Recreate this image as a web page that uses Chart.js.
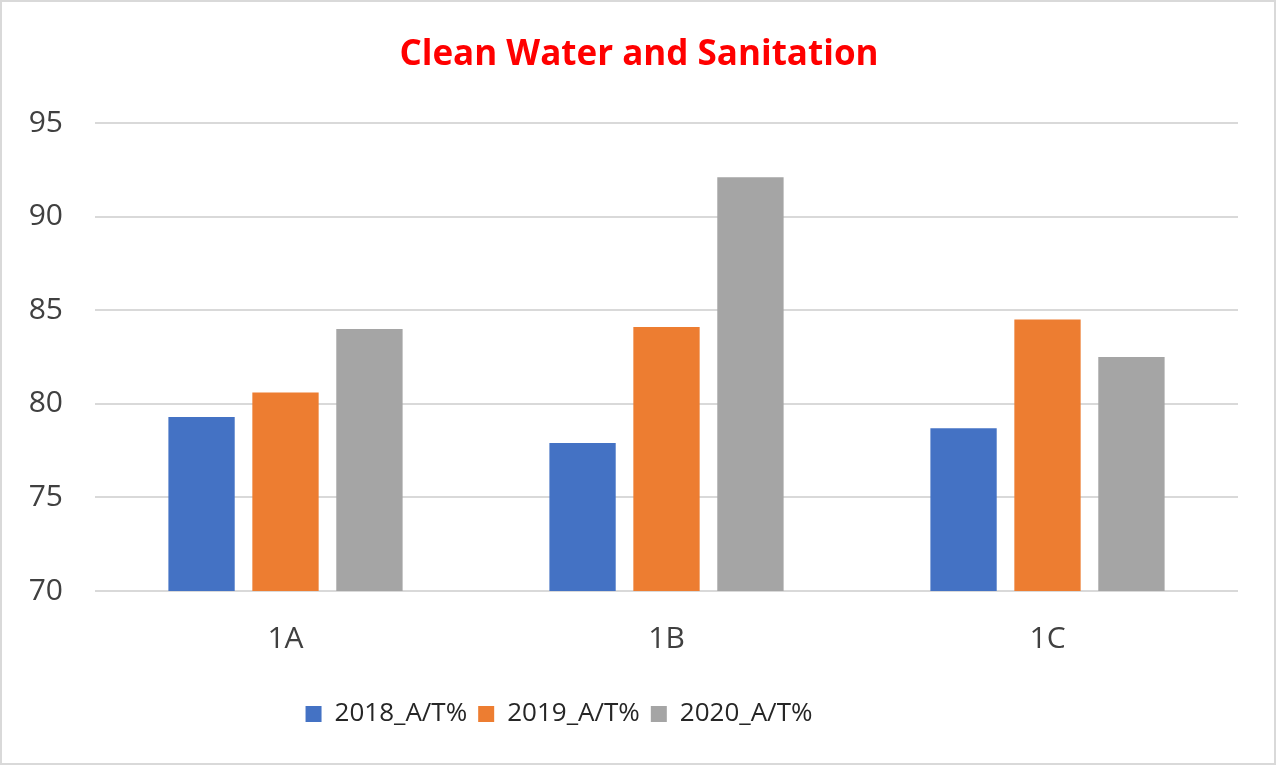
<!DOCTYPE html>
<html>
<head>
<meta charset="utf-8">
<script src="https://cdn.jsdelivr.net/npm/chart.js@4.4.1/dist/chart.umd.min.js"></script>
<style>
    html, body { margin: 0; padding: 0; background: #fff; }
    #wrap { width: 1276px; height: 765px; }
</style>
</head>
<body>
<div id="wrap"><canvas id="chart" width="1276" height="765"></canvas></div>
<script>
// chart data
const categories = ['1A', '1B', '1C'];
const seriesNames = ['2018_A/T%', '2019_A/T%', '2020_A/T%'];
const values2018 = [79.3, 77.9, 78.7];
const values2019 = [80.6, 84.1, 84.5];
const values2020 = [84.0, 92.1, 82.5];
const yMin = 70;
const yMax = 95;
const yStep = 5;

const colors = ['#4472C4', '#ED7D31', '#A5A5A5'];
const fontFamily = '"Open Sans", sans-serif';

// white background + light grey frame around the whole picture
const framePlugin = {
    id: 'frame',
    beforeDraw(chart) {
        const ctx = chart.ctx;
        ctx.save();
        ctx.fillStyle = '#fff';
        ctx.fillRect(0, 0, chart.width, chart.height);
        ctx.strokeStyle = '#d9d9d9';
        ctx.lineWidth = 2;
        ctx.strokeRect(1, 1, chart.width - 2, chart.height - 2);
        ctx.restore();
    }
};

// in the original the title sits a little right of centre and the legend a bit left
const boxShiftPlugin = {
    id: 'boxShift',
    afterLayout(chart) {
        const shift = (box, dx) => {
            if (!box) return;
            box.left += dx;
            box.right += dx;
        };
        shift(chart.titleBlock, 20);
        shift(chart.legend, -60);
    }
};

const seriesValues = [values2018, values2019, values2020];

new Chart(document.getElementById('chart'), {
    type: 'bar',
    data: {
        labels: categories,
        datasets: seriesNames.map((name, i) => ({
            label: name,
            data: seriesValues[i],
            backgroundColor: colors[i],
            borderWidth: 0,
            categoryPercentage: 0.661,
            barPercentage: 0.79
        }))
    },
    options: {
        responsive: false,
        animation: false,
        layout: {
            padding: { left: 0, right: 38, top: 0, bottom: 28 }
        },
        plugins: {
            title: {
                display: true,
                text: 'Clean Water and Sanitation',
                color: '#FF0000',
                font: { family: fontFamily, size: 35, weight: 'bold', lineHeight: 1.2 },
                padding: { top: 34, bottom: 47 }
            },
            legend: {
                position: 'bottom',
                labels: {
                    color: '#262626',
                    font: { family: fontFamily, size: 26 },
                    boxWidth: 16,
                    boxHeight: 16,
                    padding: 11
                }
            },
            tooltip: { enabled: false }
        },
        scales: {
            x: {
                grid: { display: false },
                border: { display: false },
                ticks: {
                    color: '#404040',
                    font: { family: fontFamily, size: 30 },
                    padding: 22
                },
                afterFit(scale) { scale.height = 99; }
            },
            y: {
                min: yMin,
                max: yMax,
                grid: { color: '#d9d9d9', lineWidth: 2, drawTicks: false },
                border: { display: false },
                ticks: {
                    stepSize: yStep,
                    color: '#404040',
                    font: { family: fontFamily, size: 30 },
                    padding: 32
                },
                afterFit(scale) { scale.width = 95; }
            }
        }
    },
    plugins: [framePlugin, boxShiftPlugin]
});
</script>
</body>
</html>
